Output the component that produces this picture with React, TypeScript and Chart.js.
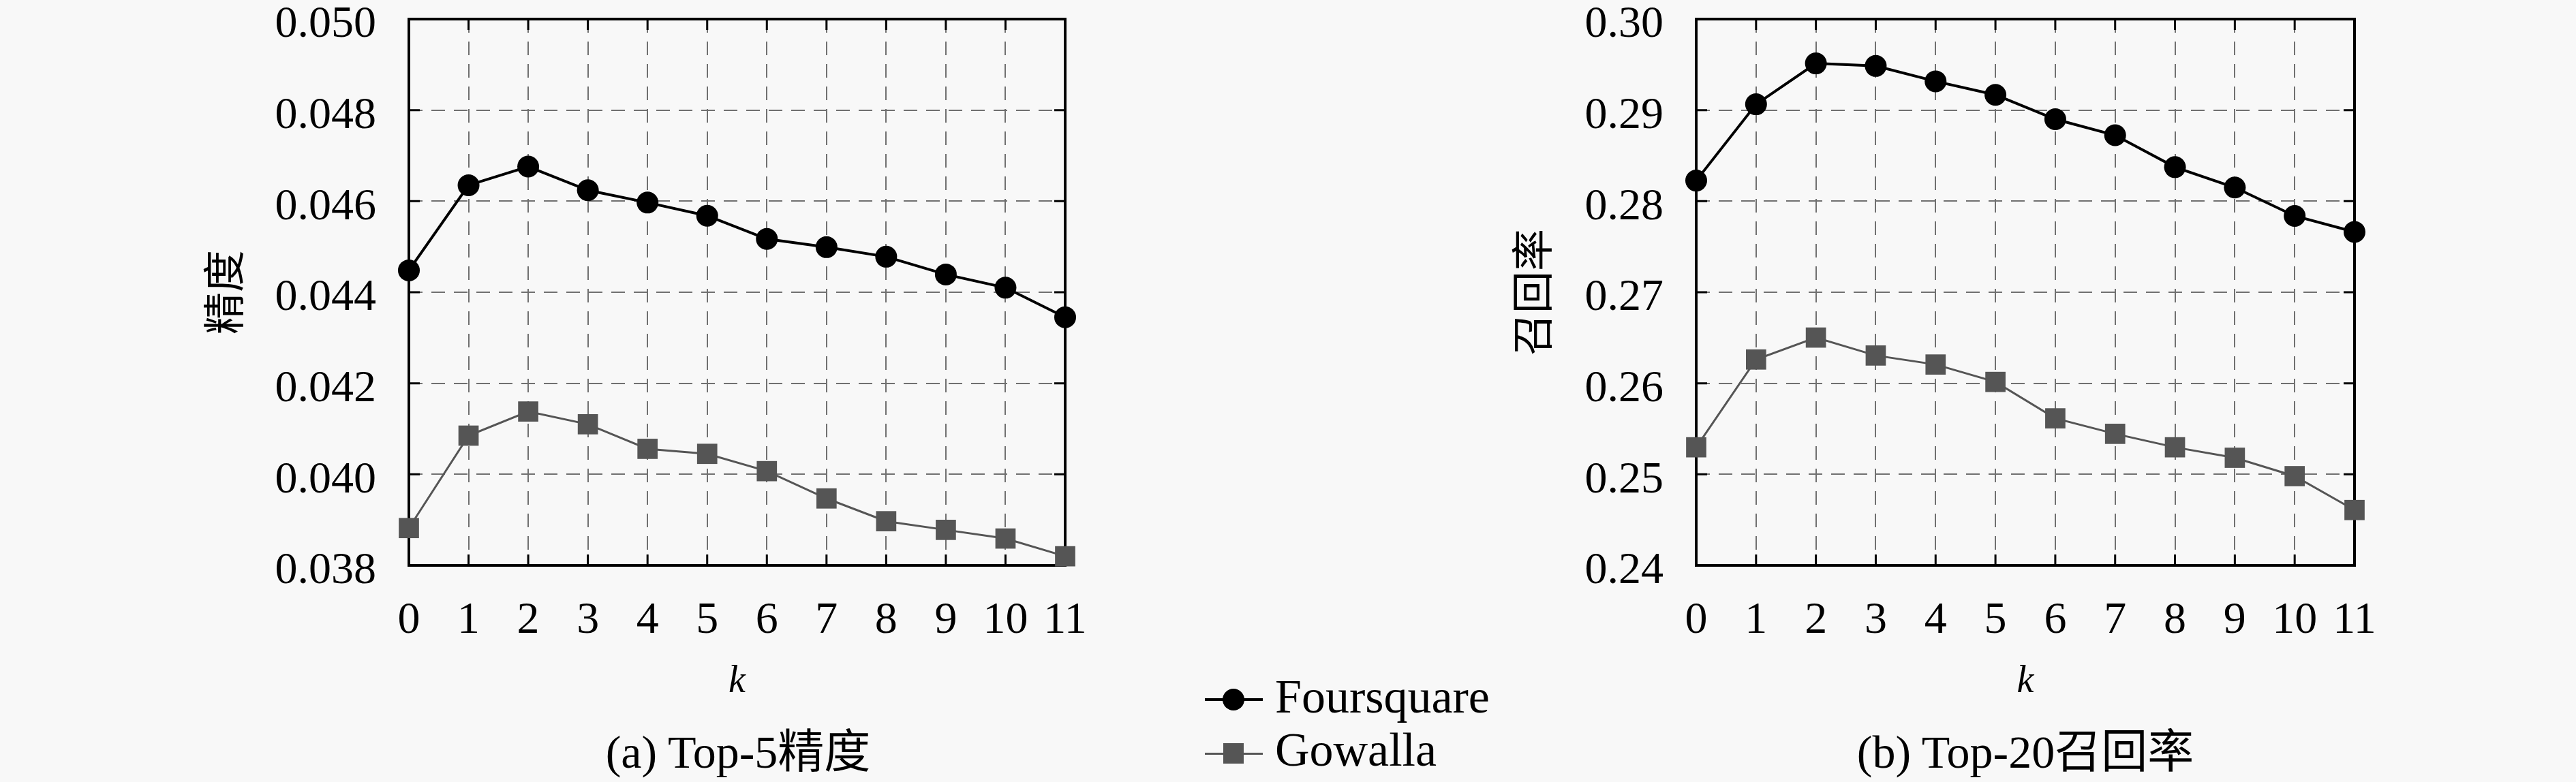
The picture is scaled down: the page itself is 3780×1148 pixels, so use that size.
import { useEffect, useRef } from 'react';
import { Chart, registerables } from 'chart.js';

Chart.register(...registerables);

// k values on the x axis
const kLabels = ['0', '1', '2', '3', '4', '5', '6', '7', '8', '9', '10', '11'];
const seriesNames = ['Foursquare', 'Gowalla'];

// (a) Top-5 precision
const precisionFoursquare = [0.04448, 0.04635, 0.04676, 0.04624, 0.04597, 0.04568, 0.04517, 0.04499, 0.04478, 0.04439, 0.0441, 0.04345];
const precisionGowalla = [0.03882, 0.04085, 0.04138, 0.0411, 0.04056, 0.04045, 0.04007, 0.03947, 0.03897, 0.03878, 0.03859, 0.0382];
const precisionTicks = [0.038, 0.04, 0.042, 0.044, 0.046, 0.048, 0.05];
const precisionTickLabels = ['0.038', '0.040', '0.042', '0.044', '0.046', '0.048', '0.050'];

// (b) Top-20 recall
const recallFoursquare = [0.28226, 0.29064, 0.29513, 0.29485, 0.29316, 0.29168, 0.289, 0.28724, 0.28374, 0.2815, 0.27838, 0.27662];
const recallGowalla = [0.25297, 0.26261, 0.26502, 0.26305, 0.26206, 0.26015, 0.25615, 0.25445, 0.25297, 0.25182, 0.2498, 0.24608];
const recallTicks = [0.24, 0.25, 0.26, 0.27, 0.28, 0.29, 0.3];
const recallTickLabels = ['0.24', '0.25', '0.26', '0.27', '0.28', '0.29', '0.30'];

const SERIF = "'Liberation Serif', 'DejaVu Serif', 'Times New Roman', serif";
const CJK = "'Noto Sans CJK SC', sans-serif";
const MIXED = "'Liberation Serif', 'DejaVu Serif', 'Noto Sans CJK SC', serif";
const CANVAS_W = 1890;
const CANVAS_H = 1148;
const AREA_TOP = 28;
const AREA_BOTTOM = 830;

// solid frame + short inward ticks on all four sides (pgfplots style)
const framePlugin = {
  id: 'frame',
  beforeDatasetsDraw(chart: any) {
    const { ctx, chartArea: a, scales } = chart;
    const len = 16;
    ctx.save();
    ctx.strokeStyle = '#000';
    ctx.lineWidth = 3;
    ctx.setLineDash([]);
    ctx.beginPath();
    scales.x.ticks.forEach((_t: any, i: number) => {
      const px = scales.x.getPixelForTick(i);
      ctx.moveTo(px, a.bottom);
      ctx.lineTo(px, a.bottom - len);
      ctx.moveTo(px, a.top);
      ctx.lineTo(px, a.top + len);
    });
    scales.y.ticks.forEach((t: any) => {
      const py = scales.y.getPixelForValue(t.value);
      ctx.moveTo(a.left, py);
      ctx.lineTo(a.left + len, py);
      ctx.moveTo(a.right, py);
      ctx.lineTo(a.right - len, py);
    });
    ctx.stroke();
    ctx.lineWidth = 4;
    ctx.strokeRect(a.left, a.top, a.right - a.left, a.bottom - a.top);
    ctx.restore();
  },
};

interface PanelProps {
  left: number;
  areaLeft: number;
  areaRight: number;
  yTitle: string;
  yTitleX: number;
  yTicks: number[];
  yTickLabels: string[];
  foursquare: number[];
  gowalla: number[];
}

function Panel({ left, areaLeft, areaRight, yTitle, yTitleX, yTicks, yTickLabels, foursquare, gowalla }: PanelProps) {
  const canvasRef = useRef<HTMLCanvasElement>(null);

  useEffect(() => {
    if (!canvasRef.current) return;
    const yTitleSize = 62;
    const kSize = 56;

    const chart = new Chart(canvasRef.current, {
      type: 'line',
      data: {
        labels: kLabels,
        datasets: [
          {
            label: seriesNames[0],
            data: foursquare,
            borderColor: '#000',
            backgroundColor: '#000',
            borderWidth: 4,
            pointStyle: 'circle',
            pointRadius: 16,
            pointBorderWidth: 0,
            tension: 0,
            clip: false,
          } as any,
          {
            label: seriesNames[1],
            data: gowalla,
            borderColor: '#555',
            backgroundColor: '#555',
            borderWidth: 3,
            pointStyle: 'rect',
            pointRadius: 21,
            pointBorderWidth: 0,
            tension: 0,
            clip: false,
          } as any,
        ],
      },
      options: {
        responsive: false,
        animation: false,
        devicePixelRatio: 1,
        layout: {
          padding: { left: 0, top: AREA_TOP, right: CANVAS_W - areaRight, bottom: 0 },
        },
        plugins: {
          legend: { display: false },
          tooltip: { enabled: false },
        },
        scales: {
          x: {
            type: 'category',
            offset: false,
            grid: { color: '#707070', lineWidth: 2, drawTicks: false },
            border: { display: false, dash: [20, 13] },
            ticks: {
              color: '#000',
              font: { family: SERIF, size: 66 },
              padding: 42,
              maxRotation: 0,
              autoSkip: false,
            },
            title: {
              display: true,
              text: 'k',
              color: '#000',
              font: { family: SERIF, size: kSize, style: 'italic' },
              padding: { top: 0, bottom: CANVAS_H - 1001 - kSize * 0.6 },
            },
            afterFit: (s: any) => {
              s.height = CANVAS_H - AREA_BOTTOM;
              s.paddingLeft = 0;
              s.paddingRight = 0;
            },
          },
          y: {
            type: 'linear',
            min: yTicks[0],
            max: yTicks[yTicks.length - 1],
            afterBuildTicks: (s: any) => {
              s.ticks = yTicks.map((v) => ({ value: v }));
            },
            grid: { color: '#707070', lineWidth: 2, drawTicks: false },
            border: { display: false, dash: [20, 13] },
            ticks: {
              color: '#000',
              font: { family: SERIF, size: 66 },
              padding: 48,
              labelOffset: 9,
              callback: (_v: any, i: number) => yTickLabels[i],
            },
            title: {
              display: true,
              text: yTitle,
              color: '#000',
              font: { family: CJK, size: yTitleSize },
              padding: { top: yTitleX - yTitleSize * 0.6, bottom: 0 },
            },
            afterFit: (s: any) => {
              s.width = areaLeft;
              s.paddingTop = 0;
              s.paddingBottom = 0;
            },
          },
        },
      },
      plugins: [framePlugin],
    });

    return () => {
      chart.destroy();
    };
  }, [areaLeft, areaRight, yTitle, yTitleX, yTicks, yTickLabels, foursquare, gowalla]);

  return (
    <canvas
      ref={canvasRef}
      width={CANVAS_W}
      height={CANVAS_H}
      style={{ position: 'absolute', left, top: 0, width: CANVAS_W, height: CANVAS_H }}
    />
  );
}

const textStyle = {
  position: 'absolute' as const,
  fontFamily: MIXED,
  fontSize: 68,
  lineHeight: 1,
  color: '#000',
  whiteSpace: 'nowrap' as const,
};

export default function App() {
  return (
    <div
      style={{
        position: 'fixed',
        left: 0,
        top: 0,
        width: 3780,
        height: 1148,
        background: '#f8f8f8',
        overflow: 'hidden',
      }}
    >
      <Panel
        left={0}
        areaLeft={600}
        areaRight={1563}
        yTitle="精度"
        yTitleX={328}
        yTicks={precisionTicks}
        yTickLabels={precisionTickLabels}
        foursquare={precisionFoursquare}
        gowalla={precisionGowalla}
      />
      <Panel
        left={1890}
        areaLeft={599}
        areaRight={1565}
        yTitle="召回率"
        yTitleX={358}
        yTicks={recallTicks}
        yTickLabels={recallTickLabels}
        foursquare={recallFoursquare}
        gowalla={recallGowalla}
      />

      {/* captions */}
      <div style={{ ...textStyle, left: 1083, top: 1070, transform: 'translateX(-50%)' }}>(a) Top-5精度</div>
      <div style={{ ...textStyle, left: 2972, top: 1070, transform: 'translateX(-50%)' }}>(b) Top-20召回率</div>

      {/* legend */}
      <div style={{ position: 'absolute', left: 1768, top: 1025, width: 85, height: 4, background: '#000' }} />
      <div style={{ position: 'absolute', left: 1794, top: 1011, width: 32, height: 32, borderRadius: '50%', background: '#000' }} />
      <div style={{ ...textStyle, fontSize: 70, left: 1871, top: 988 }}>{seriesNames[0]}</div>
      <div style={{ position: 'absolute', left: 1768, top: 1105, width: 85, height: 3, background: '#555' }} />
      <div style={{ position: 'absolute', left: 1795, top: 1091, width: 30, height: 30, background: '#555' }} />
      <div style={{ ...textStyle, fontSize: 70, left: 1871, top: 1066 }}>{seriesNames[1]}</div>
    </div>
  );
}
